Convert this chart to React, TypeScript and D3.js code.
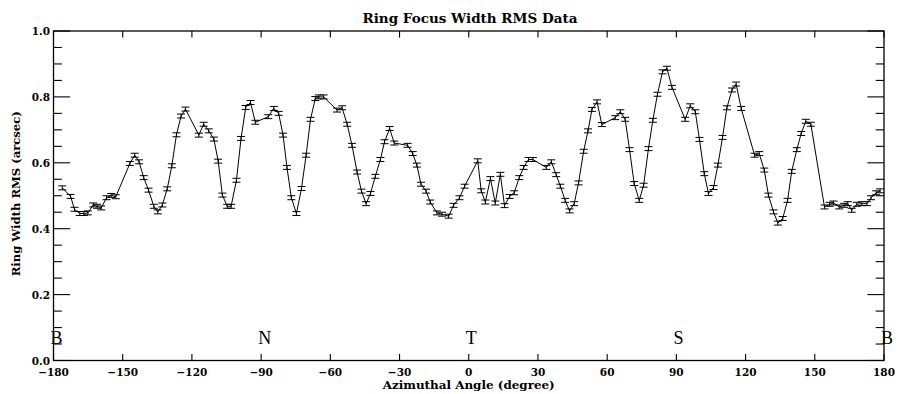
import React from "react";
import * as d3 from "d3";

const angles: number[] = [
  -176.2, -172.6, -170.9, -168.6, -166.9, -165.1, -162.8, -161.1, -159.3, -157.0,
  -155.0, -153.0, -146.9, -144.8, -142.9, -140.9, -138.8, -136.5, -134.8, -132.8,
  -130.7, -128.7, -126.7, -124.7, -122.8, -117.0, -114.9, -112.7, -110.5, -108.6,
  -106.8, -104.7, -103.0, -100.7, -98.7, -96.7, -94.6, -92.5, -86.9, -84.5,
  -82.4, -80.5, -78.8, -76.9, -74.7, -72.5, -70.5, -68.6, -66.5, -65.0,
  -62.9, -57.1, -54.9, -52.7, -50.6, -48.4, -46.5, -44.5, -42.6, -40.5,
  -38.3, -36.5, -34.3, -32.3, -26.5, -24.3, -22.5, -20.7, -18.5, -16.7,
  -13.8, -11.6, -8.7, -6.6, -4.0, -1.8, 3.9, 5.4, 7.2, 9.4,
  11.5, 13.7, 15.5, 17.7, 19.7, 21.9, 23.8, 25.9, 27.8, 33.6,
  35.8, 37.9, 39.7, 41.8, 43.7, 45.7, 47.6, 49.8, 51.7, 53.4,
  55.6, 57.7, 63.5, 65.7, 67.8, 69.7, 71.7, 73.9, 75.8, 77.9,
  79.8, 81.8, 84.0, 85.9, 88.1, 93.8, 96.0, 98.2, 100.0, 102.1,
  103.9, 106.1, 108.0, 110.0, 111.9, 114.1, 115.9, 118.1, 123.9, 125.9,
  128.1, 129.9, 132.1, 134.0, 136.1, 138.2, 140.0, 142.2, 144.1, 146.1,
  148.3, 154.2, 156.4, 158.1, 160.6, 162.7, 164.3, 166.0, 168.2, 170.4,
  172.6, 174.4, 176.6, 178.3,
];

const rmsValues: number[] = [
  0.524, 0.498, 0.459, 0.446, 0.446, 0.448, 0.472, 0.468, 0.463, 0.494,
  0.501, 0.497, 0.598, 0.623, 0.603, 0.555, 0.517, 0.468, 0.451, 0.472,
  0.521, 0.591, 0.685, 0.742, 0.763, 0.684, 0.717, 0.697, 0.672, 0.605,
  0.502, 0.468, 0.468, 0.547, 0.674, 0.768, 0.783, 0.723, 0.740, 0.765,
  0.750, 0.684, 0.586, 0.494, 0.446, 0.522, 0.623, 0.732, 0.795, 0.800,
  0.800, 0.760, 0.767, 0.717, 0.653, 0.572, 0.514, 0.476, 0.507, 0.559,
  0.610, 0.664, 0.704, 0.660, 0.653, 0.628, 0.593, 0.535, 0.514, 0.481,
  0.448, 0.444, 0.438, 0.471, 0.494, 0.529, 0.606, 0.515, 0.481, 0.552,
  0.478, 0.565, 0.470, 0.498, 0.509, 0.555, 0.586, 0.610, 0.610, 0.586,
  0.603, 0.564, 0.529, 0.486, 0.454, 0.476, 0.539, 0.635, 0.697, 0.762,
  0.785, 0.716, 0.737, 0.755, 0.732, 0.640, 0.537, 0.486, 0.532, 0.643,
  0.729, 0.808, 0.876, 0.887, 0.829, 0.732, 0.773, 0.755, 0.671, 0.567,
  0.507, 0.525, 0.593, 0.677, 0.767, 0.821, 0.839, 0.765, 0.623, 0.628,
  0.578, 0.502, 0.451, 0.417, 0.431, 0.486, 0.574, 0.640, 0.689, 0.726,
  0.717, 0.466, 0.474, 0.478, 0.466, 0.471, 0.476, 0.456, 0.474, 0.476,
  0.476, 0.494, 0.509, 0.515,
];

const rmsError = 0.006;

const xTicks: number[] = [-180, -150, -120, -90, -60, -30, 0, 30, 60, 90, 120, 150, 180];
const yTicks: number[] = [0.0, 0.2, 0.4, 0.6, 0.8, 1.0];
const yMinorTicks: number[] = [0.05, 0.1, 0.15, 0.25, 0.3, 0.35, 0.45, 0.5, 0.55, 0.65, 0.7, 0.75, 0.85, 0.9, 0.95];
const regionLabels: string[] = ["B", "N", "T", "S", "B"];
const regionAngles: number[] = [-180, -90, 0, 90, 180];

const W = 899;
const H = 394;
const L = 53.5;
const R = 884;
const T = 31;
const B = 360.5;

export default function App() {
  const x = d3.scaleLinear().domain([-180, 180]).range([L, R]);
  const y = d3.scaleLinear().domain([0, 1]).range([B, T]);
  const pts = angles.map((a, i) => [a, rmsValues[i]] as [number, number]);
  const line = d3
    .line<[number, number]>()
    .x((d) => x(d[0]))
    .y((d) => y(d[1]))(pts);

  const xTickLen = 0.02 * (B - T);
  const yTickLen = 0.02 * (R - L);
  const font = "'DejaVu Serif', 'Liberation Serif', serif";
  const fmtX = (v: number) => (v < 0 ? "\u2212" + Math.abs(v) : String(v));

  return (
    <svg
      width={W}
      height={H}
      style={{ position: "absolute", left: 0, top: 0, background: "#fff" }}
      xmlns="http://www.w3.org/2000/svg"
    >
      <rect x={0} y={0} width={W} height={H} fill="#fff" />
      <rect x={L} y={T} width={R - L} height={B - T} fill="none" stroke="#000" strokeWidth={1.3} />
      {xTicks.map((t) => (
        <g key={"xt" + t}>
          <line x1={x(t)} x2={x(t)} y1={B} y2={B - xTickLen} stroke="#000" strokeWidth={1.1} />
          <line x1={x(t)} x2={x(t)} y1={T} y2={T + xTickLen} stroke="#000" strokeWidth={1.1} />
          <text
            x={x(t)}
            y={376}
            textAnchor="middle"
            fontFamily={font}
            fontWeight="bold"
            fontSize={10.5}
          >
            {fmtX(t)}
          </text>
        </g>
      ))}
      {yTicks.map((t) => (
        <g key={"yt" + t}>
          <line x1={L} x2={L + yTickLen} y1={y(t)} y2={y(t)} stroke="#000" strokeWidth={1.1} />
          <line x1={R} x2={R - yTickLen} y1={y(t)} y2={y(t)} stroke="#000" strokeWidth={1.1} />
          <text
            x={50}
            y={y(t) + 4}
            textAnchor="end"
            fontFamily={font}
            fontWeight="bold"
            fontSize={10.5}
          >
            {t.toFixed(1)}
          </text>
        </g>
      ))}
      {yMinorTicks.map((t) => (
        <g key={"ym" + t}>
          <line x1={L} x2={L + yTickLen / 2} y1={y(t)} y2={y(t)} stroke="#000" strokeWidth={1.1} />
          <line x1={R} x2={R - yTickLen / 2} y1={y(t)} y2={y(t)} stroke="#000" strokeWidth={1.1} />
        </g>
      ))}
      <path d={line || ""} fill="none" stroke="#000" strokeWidth={1} />
      {pts.map(([a, v], i) => {
        const cx = x(a);
        const y1 = y(v + rmsError);
        const y2 = y(v - rmsError);
        return (
          <g key={"e" + i} stroke="#000" strokeWidth={1}>
            <line x1={cx} x2={cx} y1={y1} y2={y2} />
            <line x1={cx - 4} x2={cx + 4} y1={y1} y2={y1} />
            <line x1={cx - 4} x2={cx + 4} y1={y2} y2={y2} />
          </g>
        );
      })}
      {regionLabels.map((lab, i) => (
        <text
          key={"r" + i}
          x={x(regionAngles[i]) - 3}
          y={344}
          fontFamily="'Liberation Serif', 'DejaVu Serif', serif"
          fontSize={18}
        >
          {lab}
        </text>
      ))}
      <text
        x={470}
        y={23}
        textAnchor="middle"
        fontFamily={font}
        fontWeight="bold"
        fontSize={12}
        textLength={215}
        lengthAdjust="spacingAndGlyphs"
      >
        Ring Focus Width RMS Data
      </text>
      <text
        x={x(0)}
        y={389}
        textAnchor="middle"
        fontFamily={font}
        fontWeight="bold"
        fontSize={11}
        textLength={172}
        lengthAdjust="spacingAndGlyphs"
      >
        Azimuthal Angle (degree)
      </text>
      <text
        transform={`translate(20, ${(T + B) / 2 - 2}) rotate(-90)`}
        textAnchor="middle"
        fontFamily={font}
        fontWeight="bold"
        fontSize={11}
        textLength={165}
        lengthAdjust="spacingAndGlyphs"
      >
        Ring Width RMS (arcsec)
      </text>
    </svg>
  );
}
